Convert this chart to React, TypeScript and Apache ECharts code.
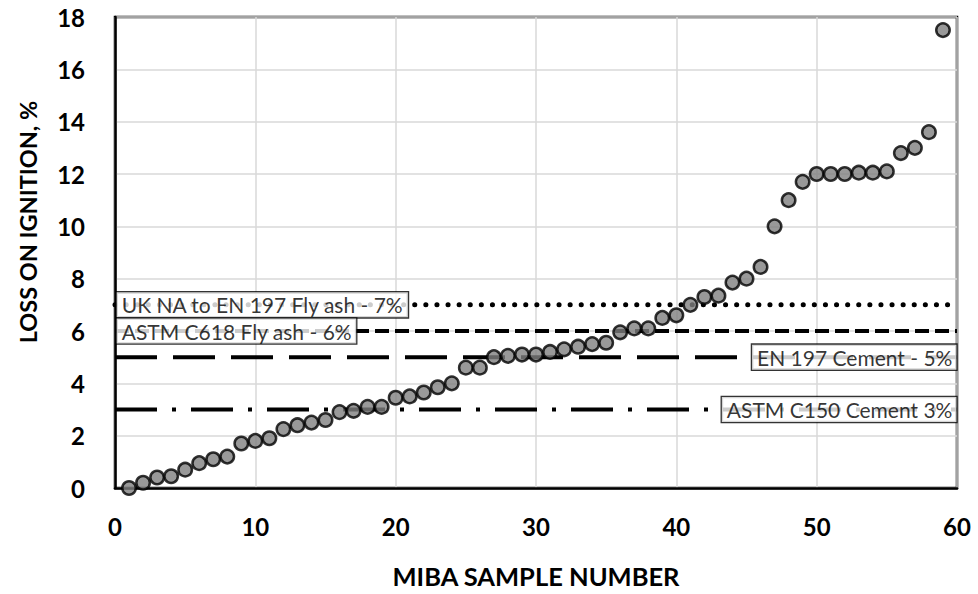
import React, { useEffect, useRef } from "react";
import * as echarts from "echarts";

const sampleNumbers = [
  1, 2, 3, 4, 5, 6, 7, 8, 9, 10, 11, 12, 13, 14, 15, 16, 17, 18, 19, 20,
  21, 22, 23, 24, 25, 26, 27, 28, 29, 30, 31, 32, 33, 34, 35, 36, 37, 38, 39, 40,
  41, 42, 43, 44, 45, 46, 47, 48, 49, 50, 51, 52, 53, 54, 55, 56, 57, 58, 59,
];
const lossOnIgnition = [
  0.0, 0.2, 0.4, 0.45, 0.7, 0.95, 1.1, 1.2, 1.7, 1.8, 1.9, 2.25, 2.4, 2.5, 2.6, 2.9, 2.95, 3.1, 3.1, 3.45,
  3.5, 3.65, 3.85, 4.0, 4.6, 4.6, 5.0, 5.05, 5.1, 5.1, 5.2, 5.3, 5.4, 5.5, 5.55, 5.95, 6.1, 6.1, 6.5, 6.6,
  7.0, 7.3, 7.35, 7.85, 8.0, 8.45, 10.0, 11.0, 11.7, 12.0, 12.0, 12.0, 12.05, 12.05, 12.1, 12.8, 13.0, 13.6, 17.5,
];

const limitNames = [
  "UK NA to EN 197 Fly ash - 7%",
  "ASTM C618 Fly ash - 6%",
  "EN 197 Cement - 5%",
  "ASTM C150 Cement 3%",
];
const limitValues = [7, 6, 5, 3];
const limitLabelSide = ["left", "left", "right", "right"];

const xTicks = { min: 0, max: 60, interval: 10 };
const yTicks = { min: 0, max: 18, interval: 2 };

const xTitle = "MIBA SAMPLE NUMBER";
const yTitle = "LOSS ON IGNITION, %";

const FONT = "Lato, 'Open Sans', sans-serif";

export default function App() {
  const ref = useRef<HTMLDivElement>(null);
  useEffect(() => {
    if (!ref.current) return;
    const chart = echarts.init(ref.current, undefined, { renderer: "svg" });
    const dashes: any[] = [
      { type: [0.1, 11], cap: "round", width: 5 },
      { type: [14, 6], cap: "butt", width: 4 },
      { type: [42, 16], cap: "butt", width: 4 },
      { type: [42, 15, 4, 15], cap: "butt", width: 4 },
    ];
    const lineSeries = limitValues.map((v, i) => ({
      type: "line",
      name: limitNames[i],
      data: [
        [xTicks.min, v],
        [xTicks.max, v],
      ],
      symbol: "none",
      z: 2,
      silent: true,
      lineStyle: {
        color: "#000",
        width: dashes[i].width,
        type: dashes[i].type,
        cap: dashes[i].cap,
      },
    }));
    const labelSeries = limitValues.map((v, i) => ({
      type: "scatter",
      name: limitNames[i] + " label",
      data: [[limitLabelSide[i] === "left" ? 0.12 : 59.96, v]],
      symbolSize: 0,
      z: 5,
      silent: true,
      label: {
        show: true,
        formatter: limitNames[i],
        position: limitLabelSide[i] === "left" ? "right" : "left",
        distance: 0,
        fontFamily: FONT,
        fontSize: 21,
        color: "#000",
        backgroundColor: "#fff",
        borderColor: "#000",
        borderWidth: 1.3,
        padding: [3, 4, 1, 5],
      },
    }));
    chart.setOption({
      animation: false,
      grid: {
        left: 115,
        right: 21,
        top: 17,
        bottom: 106,
        show: true,
        borderColor: "#000",
        borderWidth: 2.5,
      },
      graphic: [
        {
          type: "text",
          x: 28,
          y: 222,
          rotation: Math.PI / 2,
          style: {
            text: yTitle,
            fontFamily: FONT,
            fontWeight: "bold",
            fontSize: 23.5,
            fill: "#000",
            align: "center",
            verticalAlign: "middle",
          },
        },
      ],
      xAxis: {
        type: "value",
        min: xTicks.min,
        max: xTicks.max,
        interval: xTicks.interval,
        name: xTitle,
        nameLocation: "middle",
        nameGap: 75,
        nameTextStyle: { fontFamily: FONT, fontWeight: "bold", fontSize: 25.5, color: "#000" },
        axisLine: { show: true, lineStyle: { color: "#000", width: 2.5 } },
        axisTick: { show: false },
        axisLabel: { fontFamily: FONT, fontWeight: "bold", fontSize: 24, color: "#000", margin: 26 },
        splitLine: { show: true, lineStyle: { color: "#d9d9d9", width: 1.5 } },
      },
      yAxis: {
        type: "value",
        min: yTicks.min,
        max: yTicks.max,
        interval: yTicks.interval,
        axisLine: { show: true, lineStyle: { color: "#000", width: 2.5 } },
        axisTick: { show: false },
        axisLabel: { fontFamily: FONT, fontWeight: "bold", fontSize: 24, color: "#000", margin: 30 },
        splitLine: { show: true, lineStyle: { color: "#d9d9d9", width: 1.5 } },
      },
      series: [
        ...lineSeries,
        {
          type: "scatter",
          name: "LOI",
          data: sampleNumbers.map((n, i) => [n, lossOnIgnition[i]]),
          symbol: "circle",
          symbolSize: 13.5,
          z: 4,
          itemStyle: { color: "#808080", borderColor: "#000", borderWidth: 2.5 },
        },
        ...labelSeries,
      ],
    });
    return () => chart.dispose();
  }, []);
  return (
    <div
      ref={ref}
      style={{ position: "fixed", left: 0, top: 0, width: 978, height: 594, background: "#fff" }}
    />
  );
}
